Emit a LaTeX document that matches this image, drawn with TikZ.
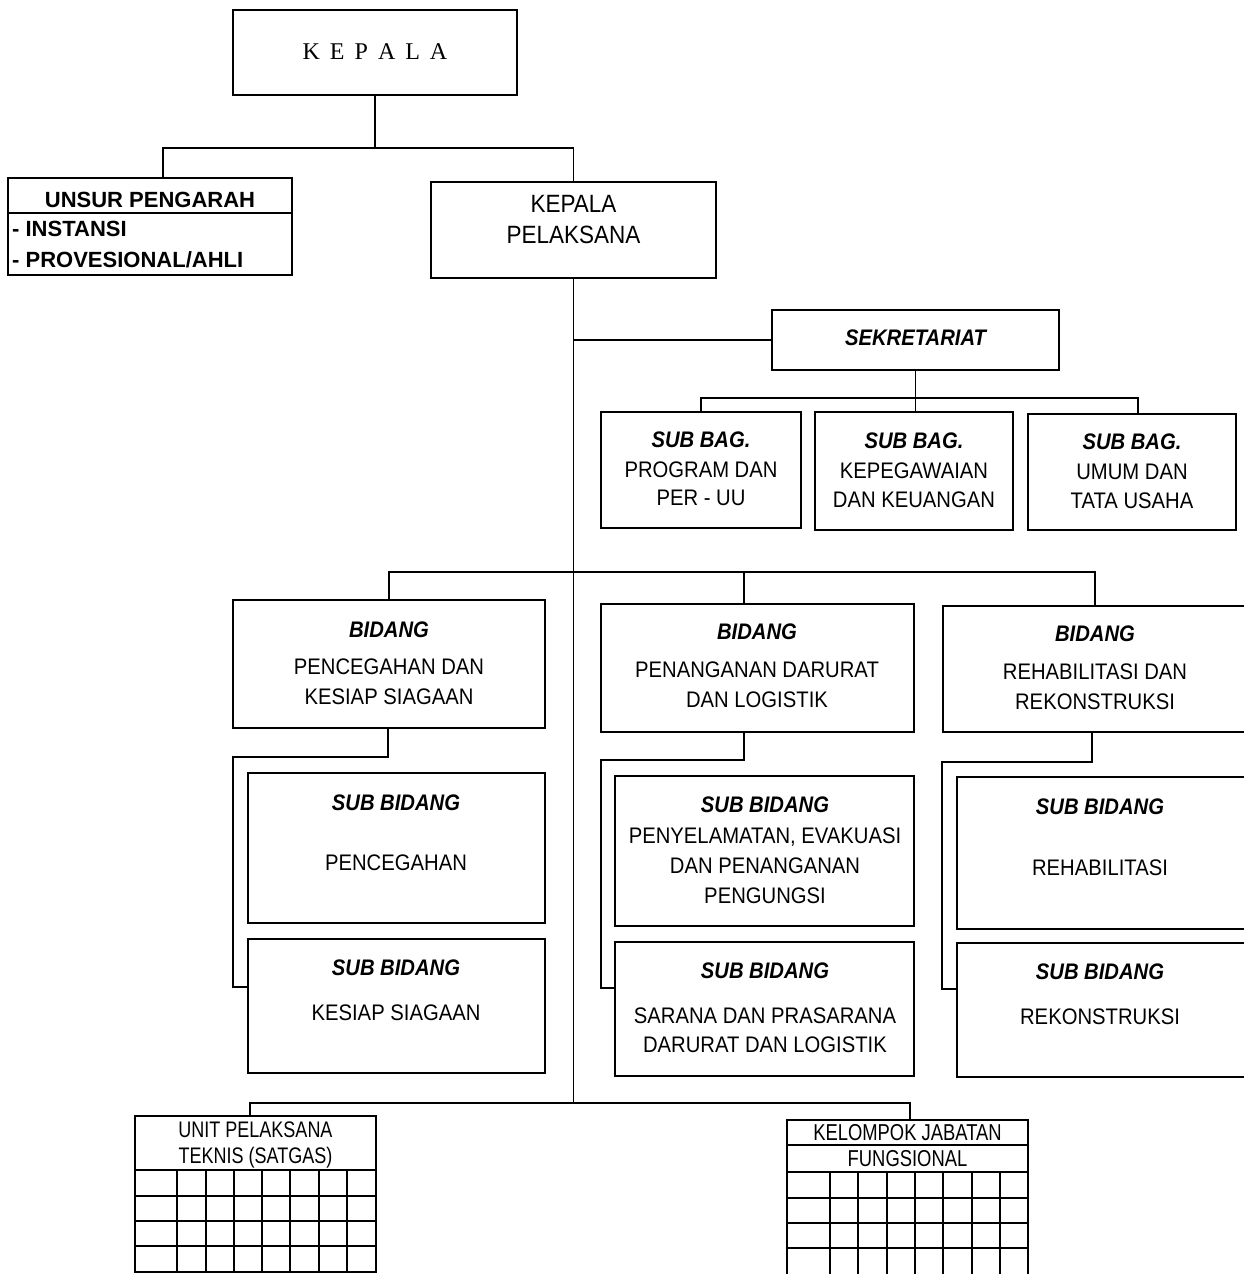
\documentclass[tikz,border=0pt]{standalone}
\usepackage{fontspec}
\setmainfont{Liberation Sans}
\newfontfamily\bodyf[FakeStretch=0.9]{Liberation Sans}
\newfontfamily\narrowf[FakeStretch=0.8]{Liberation Sans}
\newfontfamily\serf{Liberation Serif}
\tikzset{
  ln/.style={line width=1.9pt, line join=miter},
  boxst/.style={draw, line width=1.9pt, rectangle, inner sep=0pt, outer sep=0pt, anchor=north west},
  txt/.style={inner sep=0pt, align=center, font=\bodyf\fontsize{22.5}{30}\selectfont},
  hd/.style={inner sep=0pt, font=\bodyf\bfseries\itshape\fontsize{22.5}{30}\selectfont},
  gridln/.style={line width=1.9pt},
  nar/.style={inner sep=0pt, align=center, font=\narrowf\fontsize{22.5}{26}\selectfont}
}
\newcommand\mybox[5]{\node[boxst, minimum width={(#4-#2)*1pt}, minimum height={(#5-#3)*1pt}] (#1) at (#2,#3) {};}
\begin{document}
\begin{tikzpicture}[x=1pt,y=-1pt]
\useasboundingbox (0,0) rectangle (1244,1274);
\clip (0,0) rectangle (1244,1274);
\fill[white] (0,0) rectangle (1244,1274);

% KEPALA
\mybox{kepala}{233}{10}{517}{95}
\node[inner sep=0pt, font=\serf\fontsize{24}{28}\selectfont] (kepalat) at (375,52) {K\kern10pt E\kern10pt P\kern10pt A\kern10pt L\kern10pt A};

% UNSUR PENGARAH
\mybox{unsur}{8}{178}{292}{275}
\draw[ln] (unsur.west |- 0,213) -- (unsur.east |- 0,213);
\node[inner sep=0pt, font=\bfseries\fontsize{22}{26}\selectfont] (unsurt) at (150,200) {UNSUR PENGARAH};
\node[inner sep=0pt, anchor=west, font=\bfseries\fontsize{22}{26}\selectfont] (inst) at (12,229) {- INSTANSI};
\node[inner sep=0pt, anchor=west, font=\bfseries\fontsize{22}{26}\selectfont] (prov) at (12,260) {- PROVESIONAL/AHLI};

% KEPALA PELAKSANA
\mybox{pel}{431}{182}{716}{278}
\node[txt, font=\bodyf\fontsize{25}{31}\selectfont] (pelt) at (573.5,219.5) {KEPALA\\PELAKSANA};

% SEKRETARIAT
\mybox{sek}{772}{310}{1059}{370}
\node[hd] (sekt) at (915.5,338) {SEKRETARIAT};

% SUB BAG
\mybox{sb1}{601}{412}{801}{528}
\mybox{sb2}{815}{412}{1013}{530}
\mybox{sb3}{1028}{414}{1236}{530}
\node[hd] (sb1h) at (701,440) {SUB BAG.};
\node[hd] (sb2h) at (914,441) {SUB BAG.};
\node[hd] (sb3h) at (1132,442) {SUB BAG.};
\node[txt, font=\bodyf\fontsize{22.5}{28}\selectfont] (sb1t) at (701,484) {PROGRAM DAN\\PER - UU};
\node[txt, font=\bodyf\fontsize{22.5}{29}\selectfont] (sb2t) at (914,485.5) {KEPEGAWAIAN\\DAN KEUANGAN};
\node[txt, font=\bodyf\fontsize{22.5}{29}\selectfont] (sb3t) at (1132,486.5) {UMUM DAN\\TATA USAHA};

% BIDANG
\mybox{b1}{233}{600}{545}{728}
\mybox{b2}{601}{604}{914}{732}
\mybox{b3}{943}{606}{1252}{732}
\node[hd] (b1h) at (389,630) {BIDANG};
\node[hd] (b2h) at (757,632) {BIDANG};
\node[hd] (b3h) at (1095,634) {BIDANG};
\node[txt] (b1t) at (389,682) {PENCEGAHAN DAN\\KESIAP SIAGAAN};
\node[txt] (b2t) at (757,685) {PENANGANAN DARURAT\\DAN LOGISTIK};
\node[txt] (b3t) at (1095,687) {REHABILITASI DAN\\REKONSTRUKSI};

% SUB BIDANG
\mybox{s1a}{248}{773}{545}{923}
\mybox{s1b}{248}{939}{545}{1073}
\mybox{s2a}{615}{776}{914}{926}
\mybox{s2b}{615}{942}{914}{1076}
\mybox{s3a}{957}{777}{1252}{929}
\mybox{s3b}{957}{943}{1252}{1077}
\node[hd] (s1ah) at (396,803) {SUB BIDANG};
\node[hd] (s1bh) at (396,968) {SUB BIDANG};
\node[hd] (s2ah) at (765,805) {SUB BIDANG};
\node[hd] (s2bh) at (765,971) {SUB BIDANG};
\node[hd] (s3ah) at (1100,807) {SUB BIDANG};
\node[hd] (s3bh) at (1100,972) {SUB BIDANG};
\node[txt] (s1at) at (396,863) {PENCEGAHAN};
\node[txt] (s1bt) at (396,1013) {KESIAP SIAGAAN};
\node[txt] (s2at) at (765,866) {PENYELAMATAN, EVAKUASI\\DAN PENANGANAN\\PENGUNGSI};
\node[txt, font=\bodyf\fontsize{22.5}{29}\selectfont] (s2bt) at (765,1030.5) {SARANA DAN PRASARANA\\DARURAT DAN LOGISTIK};
\node[txt] (s3at) at (1100,868) {REHABILITASI};
\node[txt] (s3bt) at (1100,1017) {REKONSTRUKSI};

% UPT
\mybox{upt}{135}{1116}{376}{1272}
\draw[gridln] (upt.west |- 0,1170) -- (upt.east |- 0,1170);
\foreach \yy in {1196,1221,1246} \draw[gridln] (upt.west |- 0,\yy) -- (upt.east |- 0,\yy);
\foreach \xx in {177,206,234,262,290,319,347} \draw[gridln] (\xx,1170) -- (upt.south -| \xx,0);
\node[nar] (uptt) at (255.5,1145) {UNIT PELAKSANA\\TEKNIS (SATGAS)};

% KJF
\mybox{kjf}{787}{1120}{1028}{1300}
\foreach \yy in {1145,1172,1198,1223,1248} \draw[gridln] (kjf.west |- 0,\yy) -- (kjf.east |- 0,\yy);
\foreach \xx in {830,858,887,915,943,972,1000} \draw[gridln] (\xx,1172) -- (\xx,1300);
\node[nar, font=\narrowf\fontsize{23}{26}\selectfont] (kjft1) at (907.5,1133) {KELOMPOK JABATAN};
\node[nar, font=\narrowf\fontsize{23}{26}\selectfont] (kjft2) at (907.5,1159) {FUNGSIONAL};

% connectors
\coordinate (j0) at (375,148);
\coordinate (uIn) at (163,178);
\draw[ln] (kepala.south) -- (j0) -| (uIn);
\draw[ln] (j0) -| (pel.north);

\coordinate (jb) at (573.5,1103);
\draw[ln] (pel.south) -- (jb);
\draw[ln] (pel.south |- sek.west) -- (sek.west);

\coordinate (jsb) at (915.5,398);
\coordinate (sb3in) at (1138,414);
\draw[ln] (sek.south) -- (jsb);
\draw[ln] (sb1.north) |- (sb3in |- jsb) -- (sb3in);
\draw[ln] (jsb) -- (jsb |- sb2.north);

\coordinate (jbid) at (573.5,572);
\coordinate (b2in) at (744,604);
\coordinate (b3in) at (1095,606);
\draw[ln] (b1.north) |- (b3in |- jbid) -- (b3in);
\draw[ln] (b2in |- jbid) -- (b2in);

\coordinate (b1out) at (388,728);
\coordinate (b2out) at (744,732);
\coordinate (b3out) at (1092,732);
\draw[ln] (b1out) -- ++(0,29) -| (233,987) -- (s1b.west |- 0,987);
\draw[ln] (b2out) -- ++(0,28) -| (601,988) -- (s2b.west |- 0,988);
\draw[ln] (b3out) -- ++(0,30) -| (942,989) -- (s3b.west |- 0,989);

\coordinate (uptin) at (250,1116);
\coordinate (kjfin) at (910,1120);
\draw[ln] (uptin) |- (jb) -| (kjfin);
\end{tikzpicture}
\end{document}
